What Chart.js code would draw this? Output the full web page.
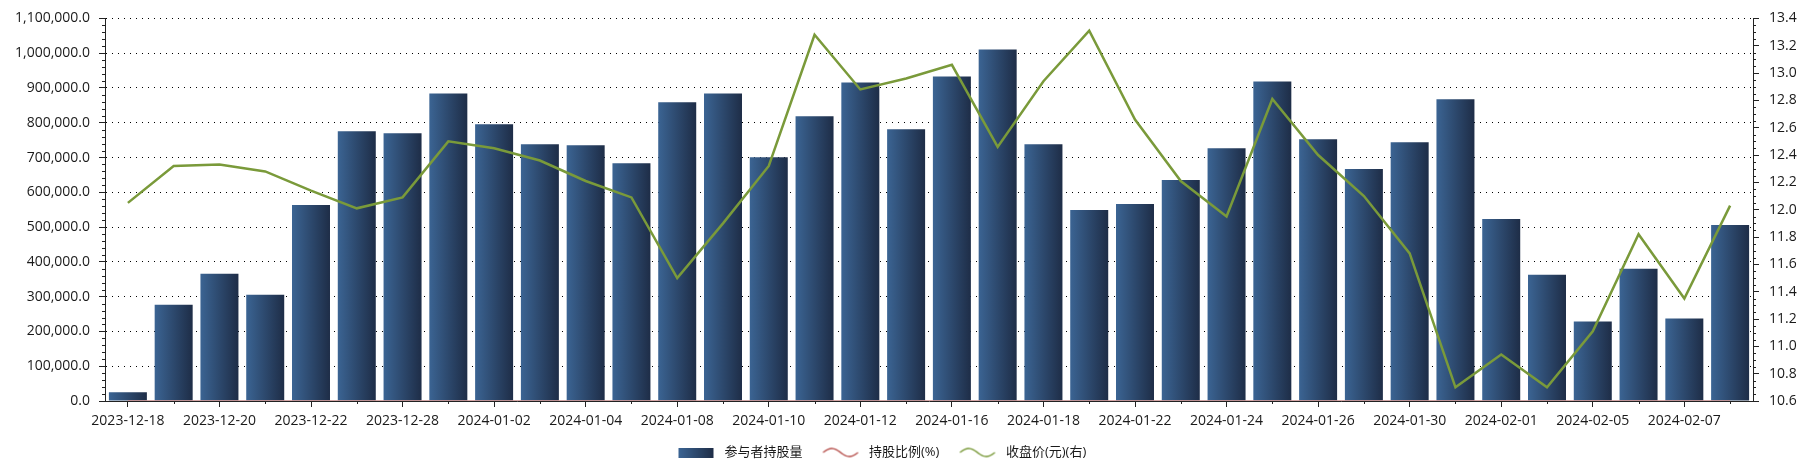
<!DOCTYPE html>
<html lang="zh">
<head>
<meta charset="utf-8">
<title>参与者持股量</title>
<script src="https://cdn.jsdelivr.net/npm/chart.js@4.4.1/dist/chart.umd.min.js"></script>
<style>
  html, body { margin: 0; padding: 0; background: #fff; }
  #wrap { width: 1809px; height: 473px; }
</style>
</head>
<body>
<div id="wrap"><canvas id="graph" width="1809" height="473"></canvas></div>
<script>
  // 日付（香港の休場日は抜けている）
  const dates = [
    '2023-12-18', '2023-12-19', '2023-12-20', '2023-12-21', '2023-12-22', '2023-12-27',
    '2023-12-28', '2023-12-29', '2024-01-02', '2024-01-03', '2024-01-04', '2024-01-05',
    '2024-01-08', '2024-01-09', '2024-01-10', '2024-01-11', '2024-01-12', '2024-01-15',
    '2024-01-16', '2024-01-17', '2024-01-18', '2024-01-19', '2024-01-22', '2024-01-23',
    '2024-01-24', '2024-01-25', '2024-01-26', '2024-01-29', '2024-01-30', '2024-01-31',
    '2024-02-01', '2024-02-02', '2024-02-05', '2024-02-06', '2024-02-07', '2024-02-08'
  ];
  const holdings = [
    25000, 277000, 366000, 305600, 563500, 775500,
    769800, 884400, 795600, 738300, 735400, 683900,
    858600, 884400, 701000, 818500, 916000, 781300,
    933100, 1010500, 738300, 549200, 566400, 635100,
    726800, 918800, 752600, 666700, 744000, 867200,
    523400, 362900, 228300, 380100, 236900, 506200
  ];
  const ratios = [
    0.01, 0.10, 0.13, 0.11, 0.20, 0.28,
    0.28, 0.32, 0.29, 0.27, 0.27, 0.25,
    0.31, 0.32, 0.25, 0.30, 0.33, 0.28,
    0.34, 0.37, 0.27, 0.20, 0.21, 0.23,
    0.26, 0.33, 0.27, 0.24, 0.27, 0.31,
    0.19, 0.13, 0.08, 0.14, 0.09, 0.18
  ];
  const closes = [
    12.05, 12.32, 12.33, 12.28, 12.14, 12.01,
    12.09, 12.50, 12.45, 12.36, 12.21, 12.09,
    11.50, 11.90, 12.32, 13.28, 12.88, 12.96,
    13.06, 12.46, 12.94, 13.31, 12.66, 12.21,
    11.95, 12.81, 12.40, 12.10, 11.68, 10.70,
    10.94, 10.70, 11.11, 11.82, 11.35, 12.03
  ];
  const seriesNames = ['参与者持股量', '持股比例(%)', '收盘价(元)(右)'];
  const leftMin = 0, leftMax = 1100000, leftStep = 100000;
  const rightMin = 10.6, rightMax = 13.4, rightStep = 0.2;

  const BAR_L = '#3b6493', BAR_R = '#1e2d47';
  const RED = '#b85450', GREEN = '#7a9a3a';
  const AXIS = '#222';
  const barPct = 0.83;
  const ICON_W = 50;      // 凡例アイコン用キャンバス幅（左に余白を含む）
  const legendLeft = 658;

  Chart.defaults.font.family = '"Open Sans", "Noto Sans CJK SC", sans-serif';
  Chart.defaults.font.size = 14;
  Chart.defaults.color = '#1a1a1a';

  function barFill(c) {
    const xs = c.chart.scales.x;
    if (!xs || c.dataIndex === undefined) return BAR_R;
    const cx = xs.getPixelForValue(c.dataIndex);
    const half = xs.width / dates.length * barPct / 2;
    if (!isFinite(cx) || !isFinite(half) || half <= 0) return BAR_R;
    const g = c.chart.ctx.createLinearGradient(cx - half, 0, cx + half, 0);
    g.addColorStop(0, BAR_L);
    g.addColorStop(1, BAR_R);
    return g;
  }

  // 凡例アイコン
  function swatchIcon() {
    const c = document.createElement('canvas');
    c.width = ICON_W; c.height = 10;
    const x = c.getContext('2d');
    const g = x.createLinearGradient(10.5, 0, 45.5, 0);
    g.addColorStop(0, BAR_L);
    g.addColorStop(1, BAR_R);
    x.fillStyle = g;
    x.fillRect(10.5, 0, 35, 10);
    return c;
  }
  function waveIcon(color) {
    const c = document.createElement('canvas');
    c.width = ICON_W; c.height = 12;
    const x = c.getContext('2d');
    x.strokeStyle = color;
    x.lineWidth = 1.4;
    x.beginPath();
    for (let t = 0; t <= 35; t++) {
      const px = 10.5 + t, py = 6 - 4 * Math.sin(2 * Math.PI * t / 35);
      if (t == 0) x.moveTo(px, py); else x.lineTo(px, py);
    }
    x.stroke();
    return c;
  }
  const icons = [swatchIcon(), waveIcon(RED), waveIcon(GREEN)];

  const minorTicks = {
    id: 'minorTicks',
    afterLayout(chart) {
      chart.legend.left = legendLeft;
    },
    afterDraw(chart) {
      const ctx = chart.ctx;
      const {x, y, y1} = chart.scales;
      const a = v => Math.round(v) + 0.5;
      ctx.save();
      ctx.strokeStyle = AXIS;
      ctx.lineWidth = 1;
      ctx.beginPath();
      for (let i = 0; i <= 55; i++) {
        if (i % 5 == 0) continue;
        const py = a(y.getPixelForValue(leftMin + i * leftStep / 5));
        ctx.moveTo(y.right - 3, py); ctx.lineTo(y.right, py);
      }
      for (let i = 0; i <= 56; i++) {
        if (i % 4 == 0) continue;
        const py = a(y1.getPixelForValue(rightMin + i * rightStep / 4));
        ctx.moveTo(y1.left, py); ctx.lineTo(y1.left + 3, py);
      }
      for (let i = 1; i < dates.length; i += 2) {
        const px = a(x.getPixelForValue(i));
        ctx.moveTo(px, x.top); ctx.lineTo(px, x.top + 3);
      }
      ctx.stroke();
      ctx.restore();
    }
  };

  const data = {
    labels: dates,
    datasets: [{
      type: 'bar',
      label: seriesNames[0],
      data: holdings,
      yAxisID: 'y',
      backgroundColor: barFill,
      barPercentage: barPct,
      categoryPercentage: 1,
      order: 2
    }, {
      type: 'line',
      label: seriesNames[1],
      data: ratios,
      yAxisID: 'y',
      borderColor: '#c98a8a',
      borderWidth: 1.5,
      pointRadius: 0,
      order: 1
    }, {
      type: 'line',
      label: seriesNames[2],
      data: closes,
      yAxisID: 'y1',
      borderColor: GREEN,
      borderWidth: 2.5,
      pointRadius: 0,
      tension: 0,
      order: 0
    }]
  };

  const options = {
    responsive: false,
    animation: false,
    layout: { padding: { top: 17, bottom: 4, left: 0, right: 0 } },
    plugins: {
      tooltip: { enabled: false },
      legend: {
        position: 'bottom',
        align: 'start',
        labels: {
          usePointStyle: true,
          pointStyleWidth: ICON_W,
          boxHeight: 12,
          padding: 10,
          font: { size: 13 },
          color: '#1a1a1a',
          sort: (a, b) => a.datasetIndex - b.datasetIndex,
          generateLabels(chart) {
            const items = Chart.defaults.plugins.legend.labels.generateLabels(chart);
            items.forEach(it => { it.pointStyle = icons[it.datasetIndex]; it.fillStyle = BAR_R; });
            return items;
          }
        }
      }
    },
    scales: {
      x: {
        offset: true,
        grid: {
          offset: false,
          drawOnChartArea: false,
          tickLength: 6,
          tickColor: c => (c.index % 2 ? 'rgba(0,0,0,0)' : AXIS)
        },
        border: { color: AXIS },
        ticks: {
          autoSkip: false,
          maxRotation: 0,
          padding: 6,
          callback: (v, i) => (i % 2 == 0 ? dates[i] : '')
        },
        afterFit: s => { s.height = 35; }
      },
      y: {
        position: 'left',
        min: leftMin, max: leftMax,
        grid: { color: '#000', tickColor: AXIS, tickLength: 6 },
        border: { color: AXIS, dash: [1, 5] },
        ticks: {
          stepSize: leftStep,
          padding: 9,
          callback: v => v.toLocaleString('en-US', { minimumFractionDigits: 1, maximumFractionDigits: 1 })
        },
        afterFit: s => { s.width = 105; }
      },
      y1: {
        position: 'right',
        min: rightMin, max: rightMax,
        grid: { drawOnChartArea: false, tickColor: AXIS, tickLength: 6 },
        border: { color: AXIS },
        ticks: {
          stepSize: rightStep,
          padding: 10,
          callback: v => v.toFixed(1)
        },
        afterFit: s => { s.width = 56; }
      }
    }
  };

  new Chart(document.getElementById('graph'), {
    data: data,
    options: options,
    plugins: [minorTicks]
  });
</script>
</body>
</html>
